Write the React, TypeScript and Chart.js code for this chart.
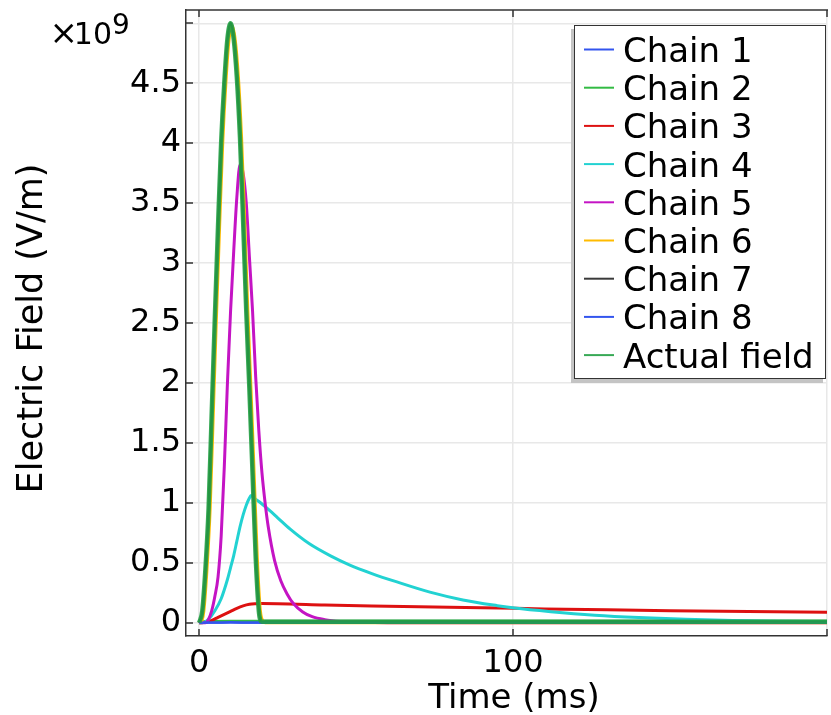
import React, { useEffect, useRef } from 'react';
import { Chart, registerables } from 'chart.js';

Chart.register(...registerables);

const FONT = "'DejaVu Sans', 'Liberation Sans', sans-serif";

// Axis ticks
const xTicks = [0, 100, 200];
const xTickLabels = ['0', '100', ''];
const yTicks = [0, 0.5, 1, 1.5, 2, 2.5, 3, 3.5, 4, 4.5, 5];
const yTickLabels = ['0', '0.5', '1', '1.5', '2', '2.5', '3', '3.5', '4', '4.5', ''];
const xAxisTitle = 'Time (ms)';
const yAxisTitle = 'Electric Field (V/m)';
const yExponentTimes = '×';
const yExponentBase = '10';
const yExponent = '9';

// Series labels and colours
const seriesLabels = ['Chain 1', 'Chain 2', 'Chain 3', 'Chain 4', 'Chain 5', 'Chain 6', 'Chain 7', 'Chain 8', 'Actual field'];
const seriesColors = ['#3355ee', '#33bb44', '#dd1111', '#22d2d2', '#c414c4', '#ffbb00', '#3a3a3a', '#3355ee', 'rgba(34,160,68,0.9)'];
const seriesWidths = [2.5, 3, 3, 3, 3, 3, 2.5, 2.5, 4.5];

// Values in units of 1e9 V/m, time in ms
const chain1Time = [0, 3, 6, 10, 15, 19, 20, 50, 100, 150, 200];
const chain1Field = [0, 0.001, 0.002, 0.003, 0.002, 0.001, 0, 0, 0, 0, 0];

const chain2Time = [0, 1, 3, 10, 20, 50, 100, 150, 200];
const chain2Field = [0, 0.008, 0.011, 0.012, 0.012, 0.012, 0.012, 0.012, 0.012];

const chain3Time = [0, 2, 4, 6, 8, 10, 12, 14, 16, 18, 20, 25, 40, 55, 70, 90, 110, 130, 150, 175, 200];
const chain3Field = [0, 0.003, 0.02, 0.045, 0.07, 0.095, 0.12, 0.14, 0.153, 0.158, 0.16, 0.159, 0.148, 0.139, 0.132, 0.125, 0.115, 0.107, 0.1, 0.093, 0.087];

const chain4Time = [0, 1, 3, 5, 7, 9, 10, 11, 12, 13, 14, 15, 16, 16.5, 18, 20, 22.5, 25, 29, 35, 42, 48, 55, 63, 73.5, 84, 95, 100.5, 112, 126, 140, 155, 170, 185, 200];
const chain4Field = [0, 0, 0.03, 0.1, 0.2, 0.36, 0.46, 0.56, 0.68, 0.8, 0.9, 0.98, 1.04, 1.06, 1.03, 0.99, 0.935, 0.875, 0.78, 0.66, 0.555, 0.48, 0.41, 0.34, 0.255, 0.19, 0.142, 0.122, 0.092, 0.063, 0.043, 0.028, 0.018, 0.012, 0.008];

const chain5Time = [0, 2, 3, 4, 5, 6, 7, 8, 9, 10, 11, 12, 13, 14, 15, 16, 17, 18, 19, 20, 21, 22, 24, 26, 28, 30, 33, 36, 40, 45, 50, 60, 100, 200];
const chain5Field = [0, 0, 0.03, 0.1, 0.22, 0.38, 0.72, 1.3, 2.0, 2.6, 3.1, 3.55, 3.82, 3.75, 3.5, 3.05, 2.6, 2.05, 1.6, 1.25, 1.0, 0.8, 0.52, 0.35, 0.24, 0.16, 0.09, 0.05, 0.025, 0.01, 0.005, 0, 0, 0];

const chain6Time = [0, 0.5, 1.5, 2.5, 3.5, 4.5, 5.5, 6.5, 7.5, 8.5, 9.5, 10.5, 11.5, 12.5, 13.5, 14.5, 15.5, 16.5, 17.5, 18.5, 19.5, 20.5, 21, 50, 100, 200];
const chain6Field = [0, 0, 0.1, 0.45, 0.95, 1.75, 2.55, 3.3, 4.0, 4.5, 4.86, 4.98, 4.86, 4.55, 4.05, 3.35, 2.6, 1.95, 1.25, 0.55, 0.1, 0.01, 0, 0, 0, 0];

const chain7Time = [0, 1, 2, 3, 4, 5, 6, 7, 8, 9, 10, 11, 12, 13, 14, 15, 16, 17, 18, 19, 19.5, 20, 50, 100, 200];
const chain7Field = [0, 0.1, 0.45, 0.95, 1.75, 2.55, 3.3, 4.0, 4.5, 4.87, 5.0, 4.87, 4.55, 4.05, 3.35, 2.6, 1.95, 1.25, 0.55, 0.1, 0.02, 0.005, 0.005, 0.005, 0.005];

const chain8Time = [0, 3, 6, 10, 15, 19, 20, 50, 100, 150, 200];
const chain8Field = [0, 0.001, 0.002, 0.003, 0.002, 0.001, 0, 0, 0, 0, 0];

const actualTime = [0, 1, 2, 3, 4, 5, 6, 7, 8, 9, 10, 11, 12, 13, 14, 15, 16, 17, 18, 19, 19.5, 20, 25, 50, 100, 150, 200];
const actualField = [0, 0.1, 0.45, 0.95, 1.75, 2.55, 3.3, 4.0, 4.5, 4.87, 5.0, 4.87, 4.55, 4.05, 3.35, 2.6, 1.95, 1.25, 0.55, 0.1, 0.02, 0.008, 0.008, 0.008, 0.008, 0.008, 0.008];

const seriesTimes = [chain1Time, chain2Time, chain3Time, chain4Time, chain5Time, chain6Time, chain7Time, chain8Time, actualTime];
const seriesValues = [chain1Field, chain2Field, chain3Field, chain4Field, chain5Field, chain6Field, chain7Field, chain8Field, actualField];

const framePlugin = {
  id: 'comsolFrame',
  afterDraw(chart: any) {
    const { ctx, chartArea: a, scales } = chart;
    const xs = scales.x;
    const ys = scales.y;
    ctx.save();
    // top frame line
    ctx.strokeStyle = '#333';
    ctx.lineWidth = 1.5;
    ctx.beginPath();
    ctx.moveTo(a.left, a.top);
    ctx.lineTo(a.right + 1, a.top);
    ctx.stroke();
    // inside ticks
    ctx.beginPath();
    xTicks.forEach((v) => {
      const px = Math.round(xs.getPixelForValue(v));
      ctx.moveTo(px, a.bottom);
      ctx.lineTo(px, a.bottom - 7);
      ctx.moveTo(px, a.top);
      ctx.lineTo(px, a.top + 7);
    });
    yTicks.forEach((v) => {
      const py = Math.round(ys.getPixelForValue(v));
      ctx.moveTo(a.left, py);
      ctx.lineTo(a.left + 7, py);
    });
    ctx.stroke();

    // exponent label
    ctx.fillStyle = '#000';
    ctx.textBaseline = 'alphabetic';
    ctx.textAlign = 'right';
    ctx.font = `30px ${FONT}`;
    ctx.fillText(yExponentBase, 112, 44);
    ctx.font = `34px ${FONT}`;
    ctx.fillText(yExponentTimes, 78, 44);
    ctx.textAlign = 'left';
    ctx.font = `28px ${FONT}`;
    ctx.fillText(yExponent, 112, 34);

    // axis titles
    ctx.font = `34px ${FONT}`;
    ctx.textAlign = 'center';
    ctx.fillText(xAxisTitle, 514, 708);
    ctx.save();
    ctx.translate(42, 328.5);
    ctx.rotate(-Math.PI / 2);
    ctx.font = `35px ${FONT}`;
    ctx.fillText(yAxisTitle, 0, 0);
    ctx.restore();

    // legend
    const lx = 574, ly = 25, lw = 252, lh = 354;
    ctx.fillStyle = '#c4c4c4';
    ctx.fillRect(lx - 3, ly + 4, lw, lh);
    ctx.fillStyle = '#fff';
    ctx.fillRect(lx, ly, lw, lh);
    ctx.strokeStyle = '#333';
    ctx.lineWidth = 1;
    ctx.strokeRect(lx + 0.5, ly + 0.5, lw - 1, lh - 1);
    ctx.font = `34px ${FONT}`;
    ctx.textAlign = 'left';
    ctx.textBaseline = 'alphabetic';
    chart.data.datasets.forEach((ds: any, i: number) => {
      const rowY = 49.5 + i * 38.2;
      ctx.strokeStyle = seriesColors[i];
      ctx.lineWidth = 2;
      ctx.beginPath();
      ctx.moveTo(584, rowY);
      ctx.lineTo(614, rowY);
      ctx.stroke();
      ctx.fillStyle = '#000';
      ctx.fillText(ds.label, 623, rowY + 12.5);
    });
    ctx.restore();
  },
};

export default function App() {
  const ref = useRef<HTMLCanvasElement | null>(null);
  useEffect(() => {
    if (!ref.current) return;
    const datasets = seriesLabels.map((label, i) => ({
      label,
      data: seriesTimes[i].map((t, j) => ({ x: t, y: seriesValues[i][j] })),
      borderColor: seriesColors[i],
      backgroundColor: seriesColors[i],
      borderWidth: seriesWidths[i],
      pointRadius: 0,
      fill: false,
      cubicInterpolationMode: 'monotone' as const,
      order: seriesLabels.length - i,
    }));
    const chart = new Chart(ref.current, {
      type: 'line',
      data: { datasets },
      options: {
        responsive: false,
        maintainAspectRatio: false,
        animation: false,
        layout: { padding: { top: 10, right: 4, left: 0, bottom: 0 } },
        plugins: { legend: { display: false }, tooltip: { enabled: false }, title: { display: false } },
        scales: {
          x: {
            type: 'linear',
            min: -4.2,
            max: 200,
            afterBuildTicks: (s: any) => { s.ticks = xTicks.map((v) => ({ value: v })); },
            afterFit: (s: any) => { s.height = 79; s.paddingLeft = 0; s.paddingRight = 0; },
            ticks: {
              callback: (_v: any, i: number) => xTickLabels[i],
              font: { family: FONT, size: 32 },
              color: '#000',
              padding: 8,
              maxRotation: 0,
              autoSkip: false,
            },
            grid: { color: '#e8e8e8', lineWidth: 1.5, drawTicks: false },
            border: { display: true, color: '#333', width: 1.5 },
          },
          y: {
            type: 'linear',
            min: -0.111,
            max: 5.111,
            afterBuildTicks: (s: any) => { s.ticks = yTicks.map((v) => ({ value: v })); },
            afterFit: (s: any) => { s.width = 186; s.paddingTop = 0; s.paddingBottom = 0; },
            ticks: {
              callback: (_v: any, i: number) => yTickLabels[i],
              font: { family: FONT, size: 32 },
              color: '#000',
              padding: 5,
              autoSkip: false,
            },
            grid: { color: '#e8e8e8', lineWidth: 1.5, drawTicks: false },
            border: { display: true, color: '#333', width: 1.5 },
          },
        },
      },
      plugins: [framePlugin],
    });
    return () => chart.destroy();
  }, []);
  return (
    <div style={{ position: 'absolute', left: 0, top: 0, width: 831, height: 715, background: '#fff' }}>
      <canvas ref={ref} width={831} height={715} style={{ width: 831, height: 715, display: 'block' }} />
    </div>
  );
}
